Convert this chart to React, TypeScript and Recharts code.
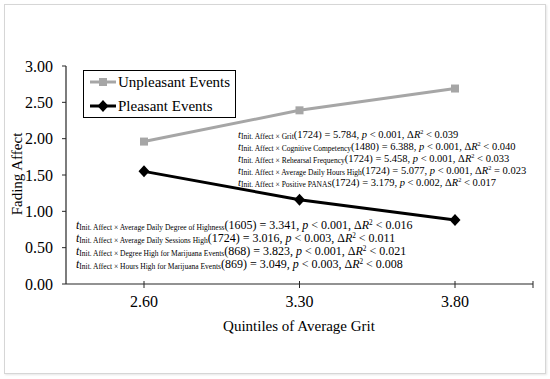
import { LineChart, Line, XAxis, YAxis, Legend } from 'recharts'

const grit = ['2.60', '3.30', '3.80']
const unpleasant = [1.96, 2.39, 2.69]
const pleasant = [1.55, 1.16, 0.88]
const yTicks = [0, 0.5, 1, 1.5, 2, 2.5, 3]

// interaction tests printed on the plot (upper-right block)
const statsRight = [
  { term: 'Init. Affect × Grit', df: '1724', t: '5.784', p: '< 0.001', r2: '< 0.039' },
  { term: 'Init. Affect × Cognitive Competency', df: '1480', t: '6.388', p: '< 0.001', r2: '< 0.040' },
  { term: 'Init. Affect × Rehearsal Frequency', df: '1724', t: '5.458', p: '< 0.001', r2: '< 0.033' },
  { term: 'Init. Affect × Average Daily Hours High', df: '1724', t: '5.077', p: '< 0.001', r2: '= 0.023' },
  { term: 'Init. Affect × Positive PANAS', df: '1724', t: '3.179', p: '< 0.002', r2: '< 0.017' },
]

// lower-left block
const statsLeft = [
  { term: 'Init. Affect × Average Daily Degree of Highness', df: '1605', t: '3.341', p: '< 0.001', r2: '< 0.016' },
  { term: 'Init. Affect × Average Daily Sessions High', df: '1724', t: '3.016', p: '< 0.003', r2: '< 0.011' },
  { term: 'Init. Affect × Degree High for Marijuana Events', df: '868', t: '3.823', p: '< 0.001', r2: '< 0.021' },
  { term: 'Init. Affect × Hours High for Marijuana Events', df: '869', t: '3.049', p: '< 0.003', r2: '< 0.008' },
]

const data = grit.map((g, i) => ({ grit: g, unpleasant: unpleasant[i], pleasant: pleasant[i] }))

const FONT = '"Liberation Serif", "Times New Roman", serif'
const GRAY = '#a6a6a6'
const AXIS = '#262626'

const SquareDot = (props: any) => {
  const { cx, cy, index } = props
  return <rect key={`sq-${index}`} x={cx - 4} y={cy - 4} width={8} height={8} fill={GRAY} />
}

const DiamondDot = (props: any) => {
  const { cx, cy, index } = props
  return (
    <path
      key={`dm-${index}`}
      d={`M${cx},${cy - 6}L${cx + 5.5},${cy}L${cx},${cy + 6}L${cx - 5.5},${cy}Z`}
      fill="#000"
    />
  )
}

const XTick = (props: any) => {
  const { x, y, payload, index } = props
  return (
    <g>
      <line x1={x} x2={x} y1={y - 3} y2={y + 4} stroke={AXIS} />
      {index === grit.length - 1 && <line x1={x + 78} x2={x + 78} y1={y - 3} y2={y + 4} stroke={AXIS} />}
      <text x={x} y={y + 23} textAnchor="middle" fontSize={16} fontFamily={FONT} fill="#000">
        {payload.value}
      </text>
    </g>
  )
}

const legendItems = [
  { name: 'Unpleasant Events', color: GRAY, square: true },
  { name: 'Pleasant Events', color: '#000', square: false },
]

const LegendBox = () => (
  <svg width={153} height={48} style={{ display: 'block', fontFamily: FONT }}>
    <rect x={0.5} y={0.5} width={152} height={47} fill="#fff" stroke="#000" />
    {legendItems.map((s, i) => {
      const cy = 12 + i * 24
      return (
        <g key={s.name}>
          <line x1={7} x2={33} y1={cy} y2={cy} stroke={s.color} strokeWidth={3} />
          {s.square ? (
            <rect x={16} y={cy - 4} width={8} height={8} fill={s.color} />
          ) : (
            <path d={`M20,${cy - 6}L25.5,${cy}L20,${cy + 6}L14.5,${cy}Z`} fill={s.color} />
          )}
          <text x={35} y={cy + 5} fontFamily={FONT} style={{ fontFamily: FONT }} fontSize={15} fill="#000">
            {s.name}
          </text>
        </g>
      )
    })}
  </svg>
)

const StatLine = ({ x, y, s, size }: { x: number; y: number; s: any; size: number }) => (
  <text x={x} y={y} fontFamily={FONT} fontSize={size} fill="#000">
    <tspan fontStyle="italic">t</tspan>
    <tspan fontSize={7.5} dy={1.5}>{s.term}</tspan>
    <tspan dy={-1.5}>{`(${s.df}) = ${s.t}, `}</tspan>
    <tspan fontStyle="italic">p</tspan>
    <tspan>{` ${s.p}, Δ`}</tspan>
    <tspan fontStyle="italic">R</tspan>
    <tspan fontSize={size * 0.6} dy={-4}>2</tspan>
    <tspan dy={4}>{` ${s.r2}`}</tspan>
  </text>
)

export default function App() {
  return (
    <div
      style={{
        position: 'absolute',
        left: 0,
        top: 0,
        width: 550,
        height: 379,
        background: '#fff',
        fontFamily: FONT,
      }}
    >
      <div
        style={{
          position: 'absolute',
          left: 4,
          top: 4,
          width: 540,
          height: 368,
          border: '1px solid #d6d6d6',
          boxShadow: '1px 1px 2px #e6e6e6',
        }}
      />
      <LineChart
        width={550}
        height={379}
        data={data}
        margin={{ top: 66, right: 17, bottom: 0, left: 0 }}
        style={{ position: 'absolute', left: 0, top: 0 }}
      >
        <XAxis
          dataKey="grit"
          height={95}
          padding={{ left: 78, right: 78 }}
          axisLine={{ stroke: AXIS, strokeWidth: 1.2 }}
          tickLine={false}
          tickSize={0}
          tickMargin={0}
          tick={<XTick />}
          interval={0}
        />
        <YAxis
          width={66}
          domain={[0, 3]}
          ticks={yTicks}
          interval={0}
          tickFormatter={(v: number) => v.toFixed(2)}
          axisLine={{ stroke: AXIS, strokeWidth: 1.2 }}
          tickLine={{ stroke: AXIS }}
          tickSize={4}
          tickMargin={9}
          tick={{ fill: '#000', fontSize: 16, fontFamily: FONT }}
        />
        <Legend
          layout="horizontal"
          verticalAlign="middle"
          align="center"
          wrapperStyle={{ left: 83, top: 70, width: 153, height: 48, fontFamily: FONT }}
          content={<LegendBox />}
        />
        <Line
          dataKey="unpleasant"
          name="Unpleasant Events"
          stroke={GRAY}
          strokeWidth={3}
          dot={SquareDot}
          activeDot={false}
          isAnimationActive={false}
        />
        <Line
          dataKey="pleasant"
          name="Pleasant Events"
          stroke="#000"
          strokeWidth={3}
          dot={DiamondDot}
          activeDot={false}
          isAnimationActive={false}
        />
      </LineChart>
      <svg width={550} height={379} style={{ position: 'absolute', left: 0, top: 0, pointerEvents: 'none' }}>
        <text
          transform="translate(22,174) rotate(-90)"
          textAnchor="middle"
          fontFamily={FONT}
          fontSize={15}
          fill="#000"
        >
          Fading Affect
        </text>
        <text x={299} y={331} textAnchor="middle" fontFamily={FONT} fontSize={15} fill="#000">
          Quintiles of Average Grit
        </text>
        {statsRight.map((s, i) => (
          <StatLine key={s.term} x={238} y={137.5 + i * 12} s={s} size={10.5} />
        ))}
        {statsLeft.map((s, i) => (
          <StatLine key={s.term} x={76} y={228.5 + i * 13} s={s} size={12} />
        ))}
      </svg>
    </div>
  )
}
